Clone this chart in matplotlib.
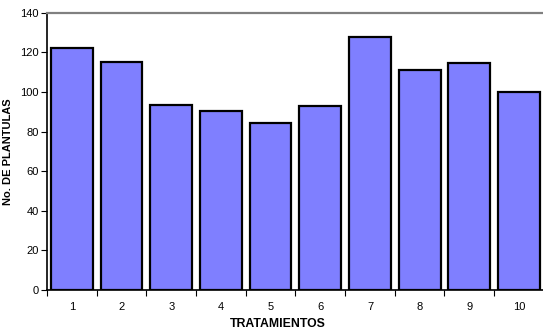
import matplotlib.pyplot as plt
import numpy as np

# Datos
tratamientos = ['1', '2', '3', '4', '5', '6', '7', '8', '9', '10']
plantulas = [122.2, 115.0, 93.3, 90.5, 84.4, 93.0, 128.0, 111.3, 114.7, 100.0]

plt.rcParams['font.family'] = ['Liberation Sans', 'DejaVu Sans']

fig = plt.figure(figsize=(5.43, 3.31), dpi=100)
ax = fig.add_axes([0.0866, 0.124, 0.915, 0.837])

x = np.arange(1, len(tratamientos) + 1)
ax.bar(x, plantulas, width=0.84, color='#7F7FFF', edgecolor='black', linewidth=1.6)

ax.set_xlim(0.5, 10.5)
ax.set_ylim(0, 140)
ax.set_yticks(np.arange(0, 141, 20))
ax.set_xticks(x)
ax.set_xticklabels(tratamientos)
ax.set_xticks(np.arange(0.5, 10.6, 1), minor=True)
ax.tick_params(axis='x', which='major', length=0, labelsize=8, pad=9)
ax.tick_params(axis='x', which='minor', length=4, width=0.8, direction='out')
ax.tick_params(axis='y', length=4, width=0.8, labelsize=8, pad=2)

ax.spines['right'].set_visible(False)
ax.spines['top'].set_color('#808080')
ax.spines['top'].set_linewidth(1.6)
ax.spines['left'].set_linewidth(1.2)
ax.spines['bottom'].set_linewidth(1.2)

ax.set_xlabel('TRATAMIENTOS', fontsize=8.8, fontweight='bold')
ax.xaxis.set_label_coords(0.465, -0.1)
ax.set_ylabel('No. DE PLANTULAS', fontsize=8, fontweight='bold')
ax.yaxis.set_label_coords(-0.068, 0.5)

fig.savefig('out.png', dpi=100)
